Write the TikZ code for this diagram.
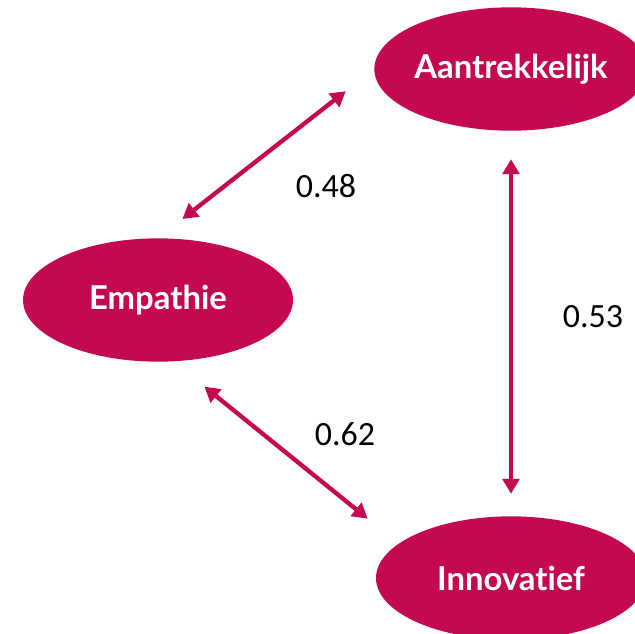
\documentclass[tikz,border=0pt]{standalone}
\usepackage{fontspec}
\setmainfont{Lato}[Ligatures=NoCommon]
\newfontfamily\numfont{Carlito}
\usepackage{xcolor}
\usetikzlibrary{shapes.geometric, arrows.meta, positioning}
\definecolor{factorred}{RGB}{196, 9, 80}

\begin{document}
\begin{tikzpicture}[
        x=0.3mm, y=-0.3mm,
        % Style for the factor ellipses
        factor/.style={
            ellipse,
            fill=factorred, draw=none,
            text=white, font=\fontsize{28}{32}\selectfont\bfseries,
            minimum width=8.1cm, minimum height=3.7cm, inner sep=0pt
        },
        % Style for the correlation arrows (tips on both ends)
        corr/.style={
            {Triangle[length=0.45cm,width=0.5cm]}-{Triangle[length=0.45cm,width=0.5cm]},
            line width=0.13cm, color=factorred
        },
        % Style for the correlation values
        weight/.style={
            font=\numfont\fontsize{29}{34}\selectfont, text=black
        }
    ]
    \useasboundingbox (0,0) rectangle (635,633);

    % 1. Factors
    \node[factor] (aan) at (511,69) {Aantrekkelijk};
    \node[factor] (emp) at (158,300) {Empathie};
    \node[factor] (inn) at (511,578) {Innovatief};

    % 2. Correlations
    \draw[corr, shorten <=0.93cm, shorten >=1.08cm] (emp.north) -- (aan.west);
    \draw[corr, shorten <=0.85cm, shorten >=0.67cm] (aan.south) -- (inn.north);
    \draw[corr, shorten <=1.2cm, shorten >=1.19cm] (emp.-76) -- (inn.163);

    % 3. Values
    \node[weight] (w1) at (326,186) {0.48};
    \node[weight] (w2) at (593,317) {0.53};
    \node[weight] (w3) at (345,434) {0.62};

\end{tikzpicture}
\end{document}
